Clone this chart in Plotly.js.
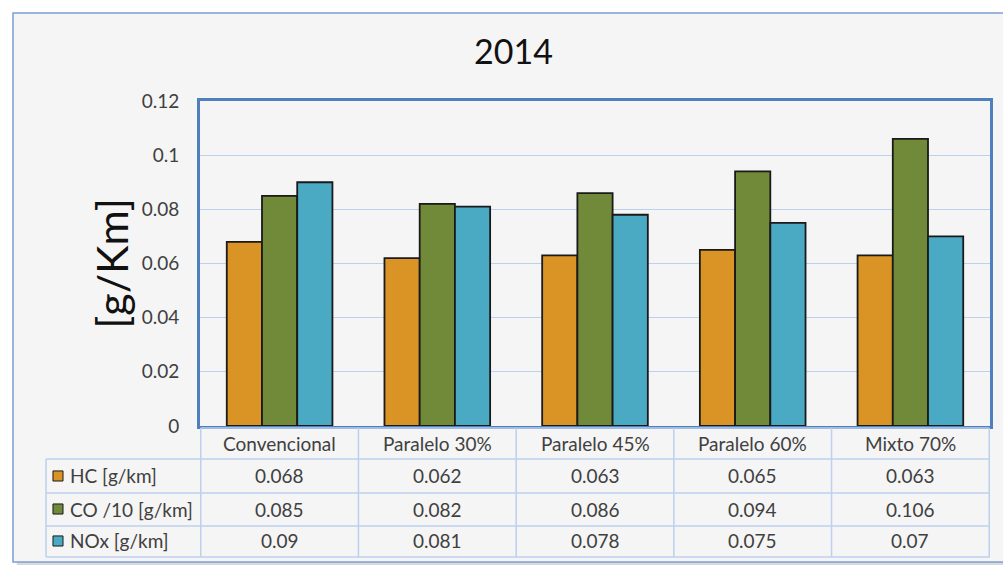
<!DOCTYPE html>
<html>
<head>
<meta charset="utf-8">
<script src="https://cdn.plot.ly/plotly-3.0.1.min.js"></script>
<style>html,body{margin:0;padding:0;background:#fff;}#chart{width:1003px;height:570px;}</style>
</head>
<body>
<div id="chart"></div>
<script>
const categories = ["Convencional", "Paralelo 30%", "Paralelo 45%", "Paralelo 60%", "Mixto 70%"];
const seriesNames = ["HC [g/km]", "CO /10 [g/km]", "NOx [g/km]"];
const hcValues = [0.068, 0.062, 0.063, 0.065, 0.063];
const coValues = [0.085, 0.082, 0.086, 0.094, 0.106];
const noxValues = [0.09, 0.081, 0.078, 0.075, 0.07];
const yTicks = [0, 0.02, 0.04, 0.06, 0.08, 0.1, 0.12];
const yTickLabels = ["0", "0.02", "0.04", "0.06", "0.08", "0.1", "0.12"];
const chartTitle = "2014";
const yTitle = "[g/Km]";

const colors = ["#d99425", "#718a3a", "#4aa9c3"];
const seriesValues = [hcValues, coValues, noxValues];
const FONT = "Lato, 'Open Sans', sans-serif";
const TXT = "#404040";
const GRID = "#bcd1ee";
const FS = 19;

const traces = seriesValues.map((vals, i) => ({
  type: "bar",
  name: seriesNames[i],
  x: categories,
  y: vals,
  marker: {color: colors[i], line: {color: "#1a1a1a", width: 1.8}},
  hoverinfo: "x+y+name"
}));

// table geometry in paper coords (y paper: 0 = plot bottom)
const rowEdges = [-0.006, -0.1015, -0.206, -0.3077, -0.403];
const rowCenters = [-0.055, -0.1538, -0.2554, -0.3538];
const labelLeft = -0.1949;

const shapes = [];
// outer frame shadow + frame
shapes.push({type: "rect", xref: "paper", yref: "paper", x0: -0.232, x1: 1.03, y0: -0.428, y1: 1.268,
  fillcolor: "#d9d9d9", line: {width: 0}, layer: "below"});
shapes.push({type: "rect", xref: "paper", yref: "paper", x0: -0.2367, x1: 1.03, y0: -0.4185, y1: 1.2708,
  fillcolor: "#f5f5f5", line: {color: "#7d9fd0", width: 1.5}, layer: "below"});

// horizontal table lines
shapes.push({type: "line", xref: "x", yref: "paper", x0: -0.5, x1: categories.length - 0.5, y0: rowEdges[0], y1: rowEdges[0], line: {color: GRID, width: 1.5}});
for (let r = 1; r < rowEdges.length; r++) {
  shapes.push({type: "line", xref: "paper", yref: "paper", x0: labelLeft, x1: 1, y0: rowEdges[r], y1: rowEdges[r], line: {color: GRID, width: 1.5}});
}
// vertical table lines
for (let c = 0; c <= categories.length; c++) {
  shapes.push({type: "line", xref: "x", yref: "paper", x0: c - 0.5, x1: c - 0.5, y0: rowEdges[0], y1: rowEdges[4], line: {color: GRID, width: 1.5}});
}
shapes.push({type: "line", xref: "paper", yref: "paper", x0: labelLeft, x1: labelLeft, y0: rowEdges[1], y1: rowEdges[4], line: {color: GRID, width: 1.5}});

// legend keys
for (let s = 0; s < seriesNames.length; s++) {
  const yc = rowCenters[s + 1];
  shapes.push({type: "rect", xref: "paper", yref: "paper", x0: -0.1861, x1: -0.1734, y0: yc - 0.0155, y1: yc + 0.0155,
    fillcolor: colors[s], line: {color: "#1a1a1a", width: 1}});
}

const annotations = [];
categories.forEach((c, i) => {
  annotations.push({xref: "x", yref: "paper", x: c, y: rowCenters[0], text: c, showarrow: false,
    font: {family: FONT, size: FS, color: TXT}, xanchor: "center", yanchor: "middle"});
  seriesValues.forEach((vals, s) => {
    annotations.push({xref: "x", yref: "paper", x: c, y: rowCenters[s + 1], text: String(vals[i]), showarrow: false,
      font: {family: FONT, size: FS, color: TXT}, xanchor: "center", yanchor: "middle"});
  });
});
seriesNames.forEach((n, s) => {
  annotations.push({xref: "paper", yref: "paper", x: -0.1671, y: rowCenters[s + 1], text: n, showarrow: false,
    font: {family: FONT, size: FS, color: TXT}, xanchor: "left", yanchor: "middle"});
});

const layout = {
  width: 1003, height: 570,
  margin: {l: 200, r: 13, t: 101, b: 144},
  paper_bgcolor: "#ffffff",
  plot_bgcolor: "#f2f2f2",
  showlegend: false,
  barmode: "group",
  bargap: 0.33,
  bargroupgap: 0,
  title: {text: chartTitle, font: {family: FONT, size: 34, color: "#111"}, x: 0.512, xref: "container", y: 0.909, yref: "container", yanchor: "middle"},
  xaxis: {showticklabels: false, ticks: "", showgrid: false, showline: true, mirror: true, linecolor: "#4f7fbd", linewidth: 3, zeroline: false, fixedrange: true},
  yaxis: {range: [0, 0.12], tickvals: yTicks, ticktext: yTickLabels, showgrid: true, gridcolor: GRID, gridwidth: 1,
    showline: true, mirror: true, linecolor: "#4f7fbd", linewidth: 3, zeroline: false,
    ticks: "outside", ticklen: 14, tickcolor: "rgba(0,0,0,0)",
    tickfont: {family: FONT, size: FS, color: TXT},
    title: {text: yTitle, font: {family: FONT, size: 43, color: "#111"}, standoff: 0}, fixedrange: true},
  shapes: shapes,
  annotations: annotations,
  font: {family: FONT}
};

Plotly.newPlot("chart", traces, layout, {displayModeBar: false, staticPlot: false});
</script>
</body>
</html>
